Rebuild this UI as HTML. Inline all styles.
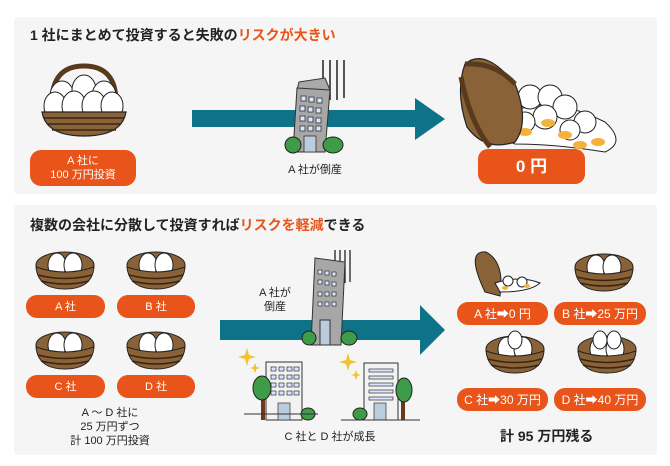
<!DOCTYPE html>
<html><head><meta charset="utf-8"><style>
*{margin:0;padding:0;box-sizing:border-box}
body{width:670px;height:466px;background:#fff;position:relative;overflow:hidden;font-family:"Liberation Sans","Noto Sans CJK JP",sans-serif;color:#222}
.panel{position:absolute;background:#f5f5f5;border-radius:4px}
.t{position:absolute;font-weight:bold;font-size:14px;white-space:nowrap}
.o{color:#e8541a}
.pill{position:absolute;background:#e8541a;color:#fff;border-radius:11px;display:flex;align-items:center;justify-content:center;text-align:center;font-size:11px;line-height:14px}
.lbl{position:absolute;font-size:11px;line-height:14px;text-align:center;white-space:nowrap}
svg{position:absolute;overflow:visible}
</style></head><body>
<div class="panel" style="left:14px;top:17px;width:643px;height:177px"></div>
<div class="panel" style="left:14px;top:205px;width:643px;height:250px"></div>

<div class="t" style="left:30px;top:25px">1 社にまとめて投資すると失敗の<span class="o">リスクが大きい</span></div>
<div class="t" style="left:30px;top:215px">複数の会社に分散して投資すれば<span class="o">リスクを軽減</span>できる</div>

<svg style="left:0;top:0" width="670" height="466">
<polygon points="192,110 415,110 415,98 445,119 415,140 415,127 192,127" fill="#0e7388"/>
<polygon points="220,320 420,320 420,305 445,330 420,355 420,340 220,340" fill="#0e7388"/>
</svg>

<!-- top-left basket -->
<svg style="left:40px;top:62px" width="90" height="76">
<path d="M12,40 Q12,4 44,4 Q76,4 76,40" fill="none" stroke="#5a3a1c" stroke-width="5"/>
<g fill="#fff" stroke="#222" stroke-width="1">
<ellipse cx="22" cy="34" rx="12" ry="15"/><ellipse cx="44" cy="28" rx="12" ry="15"/><ellipse cx="64" cy="34" rx="12" ry="15"/>
<ellipse cx="15" cy="44" rx="11" ry="14"/><ellipse cx="34" cy="44" rx="12" ry="15"/><ellipse cx="54" cy="44" rx="12" ry="15"/><ellipse cx="72" cy="44" rx="11" ry="14"/>
</g>
<path d="M2,50 L86,50 Q82,74 44,74 Q6,74 2,50Z" fill="#8a6238" stroke="#222" stroke-width="1.2"/>
<path d="M4,56 H84 M7,62 H81 M12,68 H76" stroke="#3a2410" stroke-width="1.5"/>
</svg>
<div class="pill" style="left:30px;top:150px;width:106px;height:36px">A 社に<br>100 万円投資</div>

<!-- falling building top -->
<svg style="left:285px;top:60px" width="70" height="100">
<path d="M38,0V40 M45,0V40 M52,0V40 M59,0V38" stroke="#222" stroke-width="1.5"/>
<polygon points="14,22 40,18 45,30 12,30" fill="#aaa" stroke="#333"/>
<polygon points="12,28 45,30 40,92 8,92" fill="#a7a7a7" stroke="#333"/>
<g fill="#dde4ff" stroke="#333" stroke-width=".8">
<rect x="16" y="36" width="5" height="5"/><rect x="24" y="37" width="5" height="5"/><rect x="32" y="38" width="5" height="5"/>
<rect x="15" y="46" width="5" height="5"/><rect x="23" y="47" width="5" height="5"/><rect x="31" y="48" width="5" height="5"/>
<rect x="15" y="56" width="5" height="5"/><rect x="23" y="57" width="5" height="5"/><rect x="31" y="58" width="5" height="5"/>
<rect x="15" y="66" width="5" height="5"/><rect x="23" y="66" width="5" height="5"/><rect x="31" y="66" width="5" height="5"/>
<rect x="19" y="76" width="12" height="16" fill="#bcd"/>
</g>
<ellipse cx="8" cy="85" rx="8" ry="8" fill="#3e9b47" stroke="#222"/>
<ellipse cx="48" cy="85" rx="10" ry="8" fill="#3e9b47" stroke="#222"/>
</svg>
<div class="lbl" style="left:270px;top:163px;width:90px">A 社が倒産</div>

<!-- spilled basket -->
<svg style="left:455px;top:52px" width="175" height="100">
<path d="M55,62 Q90,40 150,70 Q172,90 150,100 Q100,92 60,92 Q40,85 55,62Z" fill="#fff" stroke="#222"/>
<g fill="#fff" stroke="#222"><circle cx="75" cy="45" r="12"/><circle cx="95" cy="45" r="12"/><circle cx="110" cy="55" r="12"/><circle cx="90" cy="65" r="12"/><circle cx="130" cy="70" r="11"/><circle cx="70" cy="70" r="10"/><circle cx="115" cy="78" r="10"/></g>
<g fill="#f4b23a"><ellipse cx="70" cy="80" rx="7" ry="4"/><ellipse cx="93" cy="71" rx="7" ry="4"/><ellipse cx="110" cy="83" rx="7" ry="4"/><ellipse cx="143" cy="90" rx="7" ry="4"/><ellipse cx="125" cy="93" rx="7" ry="4"/></g>
<path d="M10,12 Q30,-5 60,32 Q75,70 60,90 Q30,100 12,75 Q0,40 10,12Z" fill="#8a6238" stroke="#222" stroke-width="1.2"/>
<path d="M10,12 Q40,10 60,32 M6,25 Q15,70 35,95" fill="none" stroke="#5a3a1c" stroke-width="5"/>
</svg>
<div class="pill" style="left:478px;top:149px;width:107px;height:35px;font-size:17px;font-weight:bold;border-radius:10px">0 円</div>

<svg style="left:0;top:0" width="670" height="466">
<defs><g id="b">
<ellipse cx="29" cy="14" rx="29" ry="13" fill="#8a6238" stroke="#222"/>
<ellipse cx="21" cy="14" rx="9" ry="12" fill="#fff" stroke="#222"/><ellipse cx="37" cy="14" rx="9" ry="12" fill="#fff" stroke="#222"/>
<path d="M0,16 Q29,26 58,16 Q56,38 29,38 Q2,38 0,16Z" fill="#8a6238" stroke="#222"/>
<path d="M2,24 Q29,31 56,24 M5,30 Q29,36 53,30" fill="none" stroke="#3a2410" stroke-width="1.5"/>
</g></defs>
<use href="#b" x="36" y="251"/><use href="#b" x="127" y="251"/>
<use href="#b" x="36" y="331"/><use href="#b" x="127" y="331"/>
<use href="#b" x="575" y="253"/>
<use href="#b" x="486" y="335"/><use href="#b" x="578" y="335"/>
<!-- right A spilled -->
<path d="M485,292 Q465,250 486,252 Q505,262 500,296Z" fill="#8a6238" stroke="#222"/>
<path d="M495,283 Q520,275 540,283 Q530,292 500,292Z" fill="#fff" stroke="#222"/>
<circle cx="508" cy="281" r="5" fill="#fff" stroke="#222"/><circle cx="522" cy="282" r="5" fill="#fff" stroke="#222"/>
<ellipse cx="505" cy="288" rx="3" ry="2" fill="#f4b23a"/><ellipse cx="527" cy="286" rx="3" ry="2" fill="#f4b23a"/>
<ellipse cx="515" cy="340" rx="7" ry="9" fill="#fff" stroke="#222"/>
<ellipse cx="600" cy="340" rx="7" ry="9" fill="#fff" stroke="#222"/><ellipse cx="614" cy="340" rx="7" ry="9" fill="#fff" stroke="#222"/>
<!-- failing building bottom -->
<g transform="translate(305,250)">
<path d="M30,0V35 M35,0V35 M40,0V33 M45,0V32" stroke="#222" stroke-width="1.3"/>
<polygon points="10,8 40,12 36,95 6,95" fill="#a7a7a7" stroke="#333"/>
<rect x="15" y="70" width="10" height="25" fill="#bcd" stroke="#333"/>
<g fill="#dde4ff" stroke="#333" stroke-width=".7"><rect x="13" y="20" width="4" height="4"/><rect x="20" y="21" width="4" height="4"/><rect x="27" y="22" width="4" height="4"/><rect x="13" y="30" width="4" height="4"/><rect x="20" y="31" width="4" height="4"/><rect x="27" y="32" width="4" height="4"/><rect x="13" y="42" width="4" height="4"/><rect x="20" y="42" width="4" height="4"/><rect x="27" y="42" width="4" height="4"/><rect x="13" y="52" width="4" height="4"/><rect x="20" y="52" width="4" height="4"/><rect x="27" y="52" width="4" height="4"/></g>
<ellipse cx="4" cy="88" rx="7" ry="7" fill="#3e9b47" stroke="#222"/><ellipse cx="44" cy="88" rx="8" ry="7" fill="#3e9b47" stroke="#222"/>
</g>
<!-- C building -->
<rect x="266" y="362" width="36" height="58" fill="#f2f2f2" stroke="#333"/>
<g fill="#dde4ff" stroke="#333" stroke-width=".7">
<rect x="271" y="367" width="5" height="4"/><rect x="279" y="367" width="5" height="4"/><rect x="287" y="367" width="5" height="4"/><rect x="294" y="367" width="5" height="4"/>
<rect x="271" y="375" width="5" height="4"/><rect x="279" y="375" width="5" height="4"/><rect x="287" y="375" width="5" height="4"/><rect x="294" y="375" width="5" height="4"/>
<rect x="271" y="383" width="5" height="4"/><rect x="279" y="383" width="5" height="4"/><rect x="287" y="383" width="5" height="4"/><rect x="294" y="383" width="5" height="4"/>
<rect x="271" y="391" width="5" height="4"/><rect x="279" y="391" width="5" height="4"/><rect x="287" y="391" width="5" height="4"/><rect x="294" y="391" width="5" height="4"/>
<rect x="278" y="403" width="12" height="17" fill="#bcd"/></g>
<rect x="261" y="390" width="4" height="30" fill="#6b3a1a"/><ellipse cx="262" cy="388" rx="9" ry="12" fill="#3e9b47" stroke="#222"/>
<ellipse cx="308" cy="414" rx="7" ry="6" fill="#3e9b47" stroke="#222"/>
<!-- D building -->
<rect x="364" y="363" width="34" height="57" fill="#f2f2f2" stroke="#333"/>
<g fill="#dde4ff" stroke="#333" stroke-width=".7"><rect x="369" y="369" width="24" height="3"/><rect x="369" y="376" width="24" height="3"/><rect x="369" y="383" width="24" height="3"/><rect x="369" y="390" width="24" height="3"/><rect x="369" y="397" width="24" height="3"/><rect x="374" y="403" width="12" height="17" fill="#bcd"/></g>
<rect x="401" y="392" width="4" height="28" fill="#6b3a1a"/><ellipse cx="404" cy="390" rx="8" ry="12" fill="#3e9b47" stroke="#222"/>
<ellipse cx="360" cy="414" rx="7" ry="6" fill="#3e9b47" stroke="#222"/>
<path d="M244,414H318 M341,420H420" stroke="#333"/>
<g fill="#f1c232"><path d="M247,348 L249,355 256,357 249,359 247,366 245,359 238,357 245,355Z"/><path d="M255,363 L256.5,367 260,368 256.5,369 255,373 253.5,369 250,368 253.5,367Z"/>
<path d="M348,353 L350,360 357,362 350,364 348,371 346,364 339,362 346,360Z"/><path d="M356,370 L357.5,374 361,375 357.5,376 356,380 354.5,376 351,375 354.5,374Z"/></g>
</svg>

<div class="pill" style="left:26px;top:295px;width:79px;height:23px">A 社</div>
<div class="pill" style="left:117px;top:295px;width:78px;height:23px">B 社</div>
<div class="pill" style="left:26px;top:375px;width:79px;height:23px">C 社</div>
<div class="pill" style="left:117px;top:375px;width:78px;height:23px">D 社</div>
<div class="lbl" style="left:60px;top:406px;width:100px">A ～ D 社に<br>25 万円ずつ<br>計 100 万円投資</div>

<div class="lbl" style="left:250px;top:286px;width:50px">A 社が<br>倒産</div>
<div class="lbl" style="left:270px;top:430px;width:120px">C 社と D 社が成長</div>

<div class="pill" style="left:457px;top:302px;width:91px;height:23px;font-size:12px">A 社➡0 円</div>
<div class="pill" style="left:554px;top:302px;width:92px;height:23px;font-size:12px">B 社➡25 万円</div>
<div class="pill" style="left:457px;top:388px;width:91px;height:23px;font-size:12px">C 社➡30 万円</div>
<div class="pill" style="left:554px;top:388px;width:92px;height:23px;font-size:12px">D 社➡40 万円</div>
<div class="t" style="left:500px;top:426px;font-size:14px">計 95 万円残る</div>
</body></html>
